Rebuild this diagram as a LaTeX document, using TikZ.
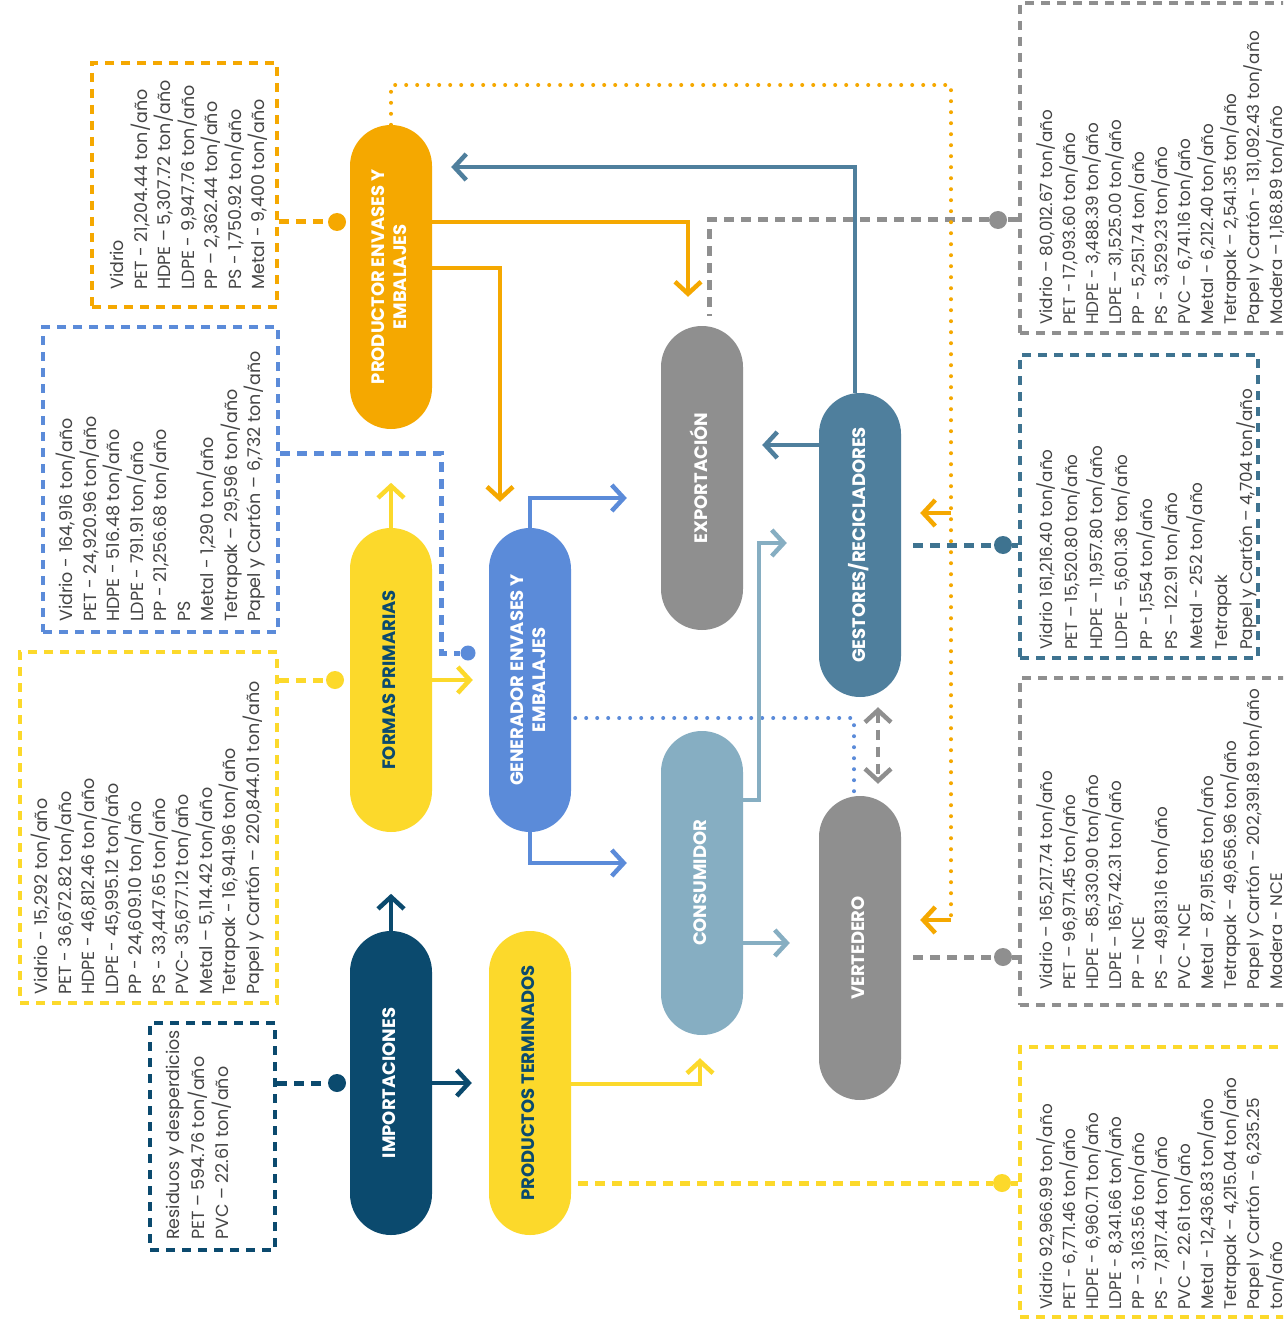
\documentclass[tikz,border=0pt]{standalone}
\usepackage{fontspec}
\setmainfont{Poppins}
\usepackage{graphicx}
\usetikzlibrary{arrows.meta,calc}
\definecolor{cOrange}{HTML}{F5A800}
\definecolor{cYellow}{HTML}{FCD92B}
\definecolor{cNavy}{HTML}{0B4A6E}
\definecolor{cBlue}{HTML}{5B8BD9}
\definecolor{cGrey}{HTML}{8F8F8F}
\definecolor{cLight}{HTML}{86AEC2}
\definecolor{cSteel}{HTML}{4F7F9D}
\definecolor{cTeal}{HTML}{3E7390}
\definecolor{cText}{HTML}{454545}
\newcommand{\plabel}[1]{\rotatebox{90}{\begin{tabular}{@{}c@{}}#1\end{tabular}}}
\begin{document}
\begin{tikzpicture}[x=1pt,y=-1pt,
  pill/.style={rounded corners=41pt, minimum width=82pt, minimum height=304pt, inner sep=0pt,
    font=\fontsize{18}{22}\selectfont\bfseries, text=white},
  boxl/.style={line width=4pt, dash pattern=on 9pt off 7pt, inner sep=0pt},
  txt/.style={rotate=90, anchor=north west, align=left, inner sep=0pt, text=cText,
    font=\fontsize{17.5}{23.5}\selectfont},
  cdot/.style={circle, inner sep=0pt, minimum size=18pt},
  arrw/.style={line width=4.5pt, -{Straight Barb[length=12pt,width=26pt]}},
  conn/.style={line width=5pt, dash pattern=on 10pt off 7pt},
  dotl/.style={line width=4pt, line cap=round, dash pattern=on 0pt off 11pt},
  dbl/.style={line width=4.5pt, dash pattern=on 10pt off 7pt, {Straight Barb[length=12pt,width=26pt]}-{Straight Barb[length=12pt,width=26pt]}}
]
\useasboundingbox (0,0) rectangle (1283,1332);
\fill[white] (0,0) rectangle (1283,1332);
\clip (0,0) rectangle (1283,1332);

% ---------- data boxes ----------
\node[boxl, draw=cOrange, minimum width=185pt, minimum height=244pt] (bOr) at (184.5,185) {};
\node[boxl, draw=cBlue, minimum width=235pt, minimum height=305pt] (bBl) at (160.5,479.5) {};
\node[boxl, draw=cYellow, minimum width=257pt, minimum height=351pt] (bYL) at (148.5,827.5) {};
\node[boxl, draw=cNavy, minimum width=125pt, minimum height=227pt] (bNv) at (212.5,1136.5) {};
\node[boxl, draw=cGrey, minimum width=290pt, minimum height=330pt] (bGT) at (1165,168) {};
\node[boxl, draw=cTeal, minimum width=238pt, minimum height=303pt] (bTl) at (1139,506.5) {};
\node[boxl, draw=cGrey, minimum width=290pt, minimum height=327pt] (bGM) at (1165,841.5) {};
\node[boxl, draw=cYellow, minimum width=290pt, minimum height=270pt] (bYR) at (1165,1182) {};

\node[txt] (tOr) at (110,290) {Vidrio\\PET - 21,204.44 ton/año\\HDPE – 5,307.72 ton/año\\LDPE - 9,947.76 ton/año\\PP – 2,362.44 ton/año\\PS - 1,750.92 ton/año\\Metal - 9,400 ton/año};
\node[txt] (tBl) at (56,622) {Vidrio - 164,916 ton/año\\PET - 24,920.96 ton/año\\HDPE - 516.48 ton/año\\LDPE - 791.91 ton/año\\PP - 21,256.68 ton/año\\PS\\Metal - 1,290 ton/año\\Tetrapak – 29,596 ton/año\\Papel y Cartón – 6,732 ton/año};
\node[txt] (tYL) at (31,995) {Vidrio - 15,292 ton/año\\PET - 36,672.82 ton/año\\HDPE - 46,812.46 ton/año\\LDPE - 45,995.12 ton/año\\PP - 24,609.10 ton/año\\PS - 33,447.65 ton/año\\PVC- 35,677.12 ton/año\\Metal – 5,114.42 ton/año\\Tetrapak - 16,941.96 ton/año\\Papel y Cartón – 220,844.01 ton/año};
\node[txt, font=\fontsize{17.5}{24.5}\selectfont] (tNv) at (166,1240) {Residuos y desperdicios\\PET – 594.76 ton/año\\PVC – 22.61 ton/año};
\node[txt, font=\fontsize{16.8}{23}\selectfont] (tGT) at (1036,325) {Vidrio – 80,012.67 ton/año\\PET - 17,093.60 ton/año\\HDPE - 3,488.39 ton/año\\LDPE – 31,525.00 ton/año\\PP - 5,251.74 ton/año\\PS - 3,529.23 ton/año\\PVC – 6,741.16 ton/año\\Metal - 6,212.40 ton/año\\Tetrapak – 2,541.35 ton/año\\Papel y Cartón - 131,092.43 ton/año\\Madera – 1,168.89 ton/año};
\node[txt, font=\fontsize{16.8}{25}\selectfont] (tTl) at (1036,650) {Vidrio 161,216.40 ton/año\\PET – 15,520.80 ton/año\\HDPE – 11,957.80 ton/año\\LDPE – 5,601.36 ton/año\\PP - 1,554 ton/año\\PS – 122.91 ton/año\\Metal - 252 ton/año\\Tetrapak\\Papel y Cartón – 4,704 ton/año};
\node[txt, font=\fontsize{16.8}{23}\selectfont] (tGM) at (1036,990) {Vidrio – 165,217.74 ton/año\\PET – 96,971.45 ton/año\\HDPE – 85,330.90 ton/año\\LDPE – 165,742.31 ton/año\\PP – NCE\\PS – 49,813.16 ton/año\\PVC - NCE\\Metal – 87,915.65 ton/año\\Tetrapak – 49,656.96 ton/año\\Papel y Cartón – 202,391.89 ton/año\\Madera - NCE};
\node[txt, font=\fontsize{16.8}{23}\selectfont] (tYR) at (1036,1310) {Vidrio 92,966.99 ton/año\\PET - 6,771.46 ton/año\\HDPE - 6,960.71 ton/año\\LDPE - 8,341.66 ton/año\\PP – 3,163.56 ton/año\\PS - 7,817.44 ton/año\\PVC – 22.61 ton/año\\Metal - 12,436.83 ton/año\\Tetrapak – 4,215.04 ton/año\\Papel y Cartón – 6,235.25\\ton/año};

% ---------- process pills ----------
\node[pill, fill=cOrange] (prod) at (391,277) {\plabel{PRODUCTOR ENVASES Y\\EMBALAJES}};
\node[pill, fill=cYellow, text=cNavy] (formas) at (391,680) {\plabel{FORMAS PRIMARIAS}};
\node[pill, fill=cNavy] (impo) at (391,1083) {\plabel{IMPORTACIONES}};
\node[pill, fill=cBlue] (gen) at (530,680) {\plabel{GENERADOR ENVASES Y\\EMBALAJES}};
\node[pill, fill=cYellow, text=cNavy] (pt) at (530,1083) {\plabel{PRODUCTOS TERMINADOS}};
\node[pill, fill=cGrey] (expo) at (702,478) {\plabel{EXPORTACIÓN}};
\node[pill, fill=cLight] (cons) at (702,883) {\plabel{CONSUMIDOR}};
\node[pill, fill=cSteel] (gest) at (860,545) {\plabel{GESTORES/RECICLADORES}};
\node[pill, fill=cGrey] (vert) at (860,948) {\plabel{VERTEDERO}};

% ---------- dots ----------
\node[cdot, fill=cOrange] (dO) at (337,222) {};
\node[cdot, fill=cBlue, minimum size=15pt] (dB) at (468,653) {};
\node[cdot, fill=cYellow] (dY) at (335,680) {};
\node[cdot, fill=cNavy] (dN) at (337,1083) {};
\node[cdot, fill=cGrey] (dG1) at (998,220) {};
\node[cdot, fill=cTeal] (dT) at (1003,545) {};
\node[cdot, fill=cGrey] (dG2) at (1003,957) {};
\node[cdot, fill=cYellow] (dY2) at (1002,1183) {};

% helper coordinates
\coordinate (kB1) at (441,453);
\coordinate (kB2) at (441,653);
\coordinate (kG) at (709,220);
\coordinate (kO2) at (500,268);
\coordinate (kS) at (855,167);
\coordinate (y445) at (0,445);
\coordinate (y498) at (0,498);
\coordinate (y863) at (0,863);
\coordinate (y718) at (0,718);
\coordinate (k854) at (854,0);
\coordinate (kL) at (759,800);
\coordinate (y543) at (0,543);
\coordinate (y943) at (0,943);
\coordinate (y85) at (0,85);
\coordinate (y513) at (0,513);
\coordinate (kOd) at (951,920);
\coordinate (kP) at (700,1084);

% ---------- dashed links box <-> dot ----------
\draw[conn, draw=cOrange] (bOr.east |- dO) -- (dO);
\draw[conn, draw=cBlue] (bBl.east |- kB1) -- (kB1) -- (kB2) -- (dB);
\draw[conn, draw=cYellow] (bYL.east |- dY) -- (dY);
\draw[conn, draw=cNavy] (bNv.east |- dN) -- (dN);
\draw[conn, draw=cGrey] (bGT.west |- dG1) -- (dG1) -- (kG) -- ($(kG |- expo.north)+(0,-10)$);
\draw[conn, draw=cTeal] ([xshift=12pt]gest.east) -- (dT) -- (bTl.west |- dT);
\draw[conn, draw=cGrey] ([xshift=12pt]vert.east |- dG2) -- (dG2) -- (bGM.west |- dG2);
\draw[conn, draw=cYellow] ([xshift=7pt]pt.east |- dY2) -- (dY2) -- (bYR.west |- dY2);

% ---------- dotted flows ----------
\draw[dotl, draw=cOrange] (prod.north) -- (prod.north |- y85) -- (kOd |- y85) -- (kOd);
\draw[dotl, draw=cBlue] ([xshift=4pt]gen.east |- y718) -- (k854 |- y718) -- (k854 |- vert.north);

% ---------- arrows ----------
\draw[arrw, draw=cOrange] (prod.east |- dO) -| ($(expo.north)+(-14,-29)$);
\draw[arrw, draw=cOrange] (prod.east |- kO2) -- (kO2) -- ($(kO2 |- gen.north)+(0,-26)$);
\draw[arrw, draw=cOrange] (kOd |- y513) -- ($(gest.east |- y513)+(19,0)$);
\draw[arrw, draw=cOrange] (kOd) -- ($(vert.east |- kOd)+(19,0)$);
\draw[arrw, draw=cSteel] (kS |- gest.north) -- (kS) -- ($(prod.east |- kS)+(19,0)$);
\draw[arrw, draw=cSteel] (gest.west |- y445) -- ($(expo.east |- y445)+(19,0)$);
\draw[arrw, draw=cYellow] (formas.north) -- ($(formas.north)+(0,-45)$);
\draw[arrw, draw=cYellow] (formas.east |- dY) -- ($(gen.west |- dY)+(-16,0)$);
\draw[arrw, draw=cBlue] (gen.north) |- ($(expo.west |- y498)+(-34,0)$);
\draw[arrw, draw=cBlue] (gen.south) |- ($(cons.west |- y863)+(-34,0)$);
\draw[arrw, draw=cLight] (cons.east |- kL) -- (kL) |- ($(gest.west |- y543)+(-32,0)$);
\draw[arrw, draw=cLight] (cons.east |- y943) -- ($(vert.west |- y943)+(-29,0)$);
\draw[dbl, draw=cGrey] ($(gest.south)+(18,10)$) -- ($(vert.north)+(18,-12)$);
\draw[arrw, draw=cNavy] (impo.north) -- ($(impo.north)+(0,-37)$);
\draw[arrw, draw=cNavy] (impo.east |- dN) -- ($(pt.west |- dN)+(-17,0)$);
\draw[arrw, draw=cYellow] (pt.east |- kP) -- (kP) -- ($(kP |- cons.south)+(0,23)$);
\end{tikzpicture}
\end{document}
